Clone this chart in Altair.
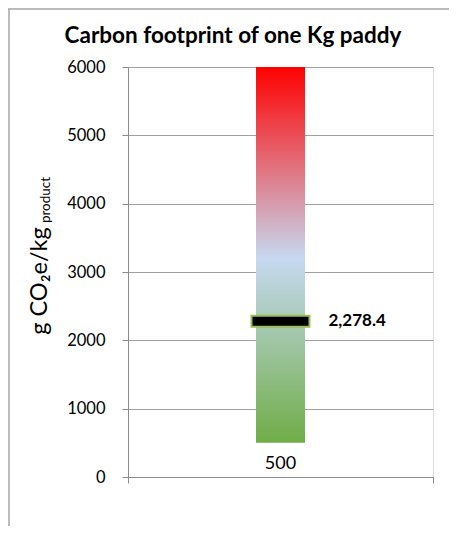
import altair as alt
import pandas as pd

# ---- data ----
categories = ["One Kg paddy"]
low_values = [500]
high_values = [6000]
mean_values = [2278.4]
y_tick_values = list(range(0, 6001, 500))

title_text = "Carbon footprint of one Kg paddy"
y_title_main = "g CO\u2082e/kg"
y_title_sub = "product"

df = pd.DataFrame({
    "category": categories,
    "pos": [i + 0.5 for i in range(len(categories))],
    "low": low_values,
    "high": high_values,
    "mean": mean_values,
})

FONT = "Lato"
GRAY = "#8c8c8c"

x_enc = alt.X(
    "pos:Q",
    scale=alt.Scale(domain=[0, len(categories)], padding=0, nice=False, zero=False),
    axis=alt.Axis(values=list(range(len(categories) + 1)), labels=False, title=None,
                  grid=False, tickSize=6, tickColor=GRAY, domainColor=GRAY, domainWidth=1),
)
y_scale = alt.Scale(domain=[0, 6000], nice=False)

gradient = {
    "gradient": "linear",
    "x1": 0, "y1": 1, "x2": 0, "y2": 0,
    "stops": [
        {"offset": 0.0, "color": "#70ad47"},
        {"offset": 0.49, "color": "#c6d9f1"},
        {"offset": 1.0, "color": "#ff0000"},
    ],
}

base = alt.Chart(df)

bar = base.mark_bar(size=49, color=gradient).encode(
    x=x_enc,
    y=alt.Y("high:Q", scale=y_scale,
            axis=alt.Axis(values=y_tick_values, title=None, format="d",
                          labelExpr="datum.value % 1000 === 0 ? datum.label : ''",
                          labelFont=FONT, labelFontSize=16.5, labelColor="#000000",
                          labelPadding=17, tickSize=6, tickColor=GRAY,
                          domainColor=GRAY, gridColor="#a0a0a0",
                          gridOpacity={"condition": {"test": "datum.value % 1000 === 0", "value": 1}, "value": 0})),
    y2="low:Q",
)

marker = base.mark_tick(orient="horizontal", size=58, thickness=11, color="#000000",
                        stroke="#9bbb59", strokeWidth=2, opacity=1).encode(
    x="pos:Q", y="mean:Q")

mean_label = base.mark_text(align="left", baseline="middle", dx=48, font=FONT,
                            fontSize=17, fontWeight="bold", color="#000000").encode(
    x="pos:Q", y="mean:Q", text=alt.Text("mean:Q", format=",.1f"))

low_label = base.mark_text(align="center", baseline="middle", dy=21, font=FONT,
                           fontSize=18, color="#000000").encode(
    x="pos:Q", y="low:Q", text=alt.Text("low:Q", format="d"))

title_df = pd.DataFrame({"t": [title_text]})
title = alt.Chart(title_df).mark_text(align="center", baseline="alphabetic", font=FONT,
                                      fontSize=22.5, fontWeight="bold", color="#000000").encode(
    x=alt.value(105), y=alt.value(-24), text="t:N")

ymain = alt.Chart(pd.DataFrame({"t": [y_title_main]})).mark_text(
    align="center", baseline="alphabetic", angle=270, font=FONT, fontSize=23.5, color="#000000").encode(
    x=alt.value(-81), y=alt.value(214), text="t:N")
ysub = alt.Chart(pd.DataFrame({"t": [y_title_sub]})).mark_text(
    align="center", baseline="alphabetic", angle=270, font=FONT, fontSize=13.5, color="#000000").encode(
    x=alt.value(-78), y=alt.value(133), text="t:N")

frame_top = alt.Chart(title_df).mark_rule(color="#a6a6a6", strokeWidth=1.5).encode(
    x=alt.value(-120), x2=alt.value(321), y=alt.value(-58))
frame_left = alt.Chart(title_df).mark_rule(color="#a6a6a6", strokeWidth=1.5).encode(
    x=alt.value(-119), y=alt.value(-58), y2=alt.value(459))

chart = alt.layer(frame_top, frame_left, bar, marker, mean_label, low_label, title, ymain, ysub).properties(
    width=305, height=410,
    autosize=alt.AutoSizeParams(type="none"),
    padding={"left": 120, "top": 59, "right": 16, "bottom": 49},
).configure_view(stroke=None).configure(background="#ffffff")

chart.save("out.html", embed_options={"renderer": "svg", "actions": False})
